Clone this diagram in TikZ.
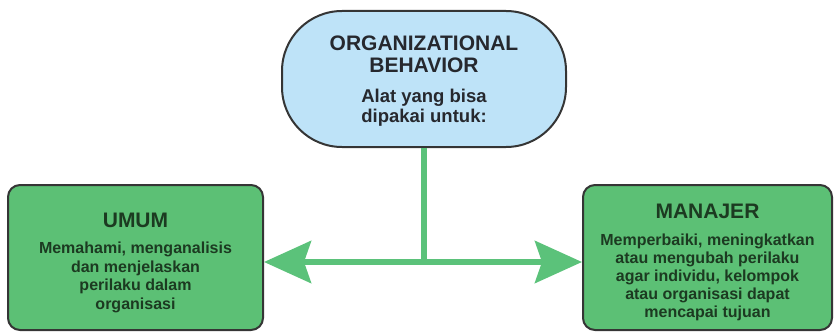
\documentclass[tikz,border=0pt]{standalone}
\usepackage{fontspec}
\setmainfont{Liberation Sans}
\usetikzlibrary{arrows.meta}
\definecolor{obblue}{HTML}{BEE3F8}
\definecolor{obgreen}{HTML}{5CC075}
\definecolor{arrowgreen}{HTML}{5BC27A}
\definecolor{edgegray}{HTML}{353535}
\definecolor{textdark}{HTML}{26282E}
\definecolor{textgreen}{HTML}{1C3A21}
\newcommand{\headfont}{\fontsize{21}{22}\selectfont}
\tikzset{
  box/.style={draw=edgegray, line width=2pt, fill=obgreen, rounded corners=12pt,
    align=center, text=textgreen, inner sep=0pt},
  link/.style={draw=arrowgreen, line width=6pt},
  bigtip/.tip={Stealth[length=47pt, width=42pt, inset=7pt]}
}

\begin{document}
\begin{tikzpicture}[x=1pt, y=-1pt]
  \useasboundingbox (0,0) rectangle (834,334);
  \node[box, fill=obblue, text=textdark, rounded corners=60pt,
    font=\fontsize{18.5}{20}\selectfont\bfseries,
    minimum width=284pt, minimum height=136pt] (ob) at (424,79)
    {\headfont\rule{0pt}{19pt}ORGANIZATIONAL\\[2pt]\headfont BEHAVIOR\\[10pt]
     Alat yang bisa\\dipakai untuk:};
  \node[box, font=\fontsize{16}{18.5}\selectfont\bfseries,
    minimum width=255pt, minimum height=145pt] (umum) at (135.5,257.5)
    {\headfont\rule{0pt}{25pt}UMUM\\[7.5pt]
     Memahami, menganalisis\\dan menjelaskan\\perilaku dalam\\organisasi};
  \node[box, font=\fontsize{16}{18}\selectfont\bfseries,
    minimum width=249pt, minimum height=145pt] (manajer) at (707.5,257.5)
    {\headfont\rule{0pt}{24pt}MANAJER\\[9pt]
     Memperbaiki, meningkatkan\\atau mengubah perilaku\\agar individu, kelompok\\atau organisasi dapat\\mencapai tujuan};
  \coordinate (joint) at (424,262);
  \draw[link] (ob.south) -- (joint);
  \draw[link, bigtip-bigtip] (umum.east |- joint) -- (manajer.west |- joint);
\end{tikzpicture}
\end{document}
